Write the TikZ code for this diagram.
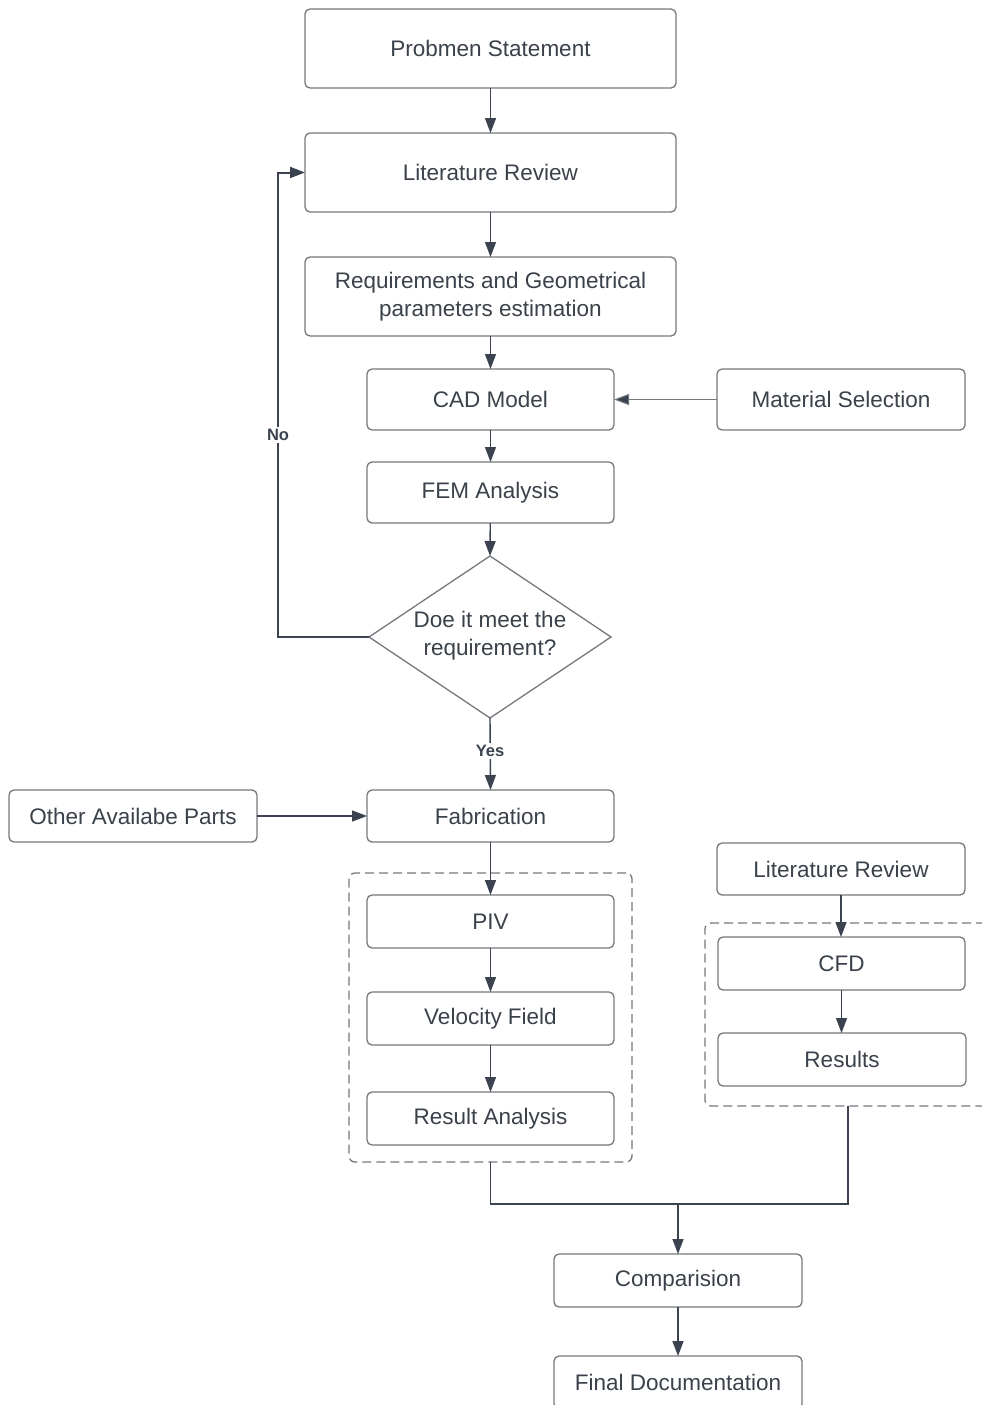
\documentclass[tikz,border=0pt]{standalone}
\usepackage{fontspec}
\setmainfont{Liberation Sans}
\usetikzlibrary{arrows.meta,shapes.geometric}
\definecolor{txt}{HTML}{3A414A}
\definecolor{bord}{HTML}{74787E}
\definecolor{conn}{HTML}{3B4350}
\begin{document}
\begin{tikzpicture}[x=1pt,y=-1pt,
  box/.style={draw=bord,line width=1.3pt,rounded corners=5pt,text=txt,
    font=\fontsize{22.5}{28}\selectfont,align=center,inner sep=0pt,outer sep=0pt},
  wide/.style={minimum width=371pt,minimum height=79pt},
  mid/.style={minimum width=247pt,minimum height=53pt},
  dbox/.style={draw=bord,line width=1.3pt,dash pattern=on 9pt off 5pt,rounded corners=6pt,inner sep=0pt,outer sep=0pt},
  conn/.style={draw=conn,line width=1.4pt,-{Triangle[length=15pt,width=11pt]}},
  plain/.style={draw=conn,line width=1.4pt},
  lbl/.style={fill=white,text=conn,font=\fontsize{16.5}{18}\selectfont\bfseries,inner sep=2pt}]
\clip (0,0) rectangle (982,1405);
\useasboundingbox (0,0) rectangle (982,1405);
% dashed groups
\node[dbox,minimum width=283pt,minimum height=289pt] (g1) at (490.5,1017.5) {};
\node[dbox,minimum width=300pt,minimum height=183pt] (g2) at (855,1014.5) {};
% nodes
\node[box,wide] (ps) at (490.5,48.5) {Probmen Statement};
\node[box,wide] (lr) at (490.5,172.5) {Literature Review};
\node[box,wide] (req) at (490.5,296.5) {Requirements and Geometrical\\parameters estimation};
\node[box,minimum width=247pt,minimum height=61pt] (cad) at (490.5,399.5) {CAD Model};
\node[box,minimum width=248pt,minimum height=61pt] (ms) at (841,399.5) {Material Selection};
\node[box,minimum width=247pt,minimum height=61pt] (fem) at (490.5,492.5) {FEM Analysis};
\node[shape=diamond,draw=bord,line width=1.3pt,aspect=1.5,minimum width=242pt,minimum height=162pt,inner sep=0pt,outer sep=0pt] (dec) at (490,637) {};
\node[text=txt,font=\fontsize{22.5}{28}\selectfont,align=center] (dect) at (490,636) {Doe it meet the\\requirement?};
\node[box,mid,minimum height=52pt] (fab) at (490.5,816) {Fabrication};
\node[box,mid,minimum width=248pt,minimum height=52pt] (oap) at (133,816) {Other Availabe Parts};
\node[box,mid] (piv) at (490.5,921.5) {PIV};
\node[box,mid] (vf) at (490.5,1018.5) {Velocity Field};
\node[box,mid] (ra) at (490.5,1118.5) {Result Analysis};
\node[box,mid,minimum width=248pt,minimum height=52pt] (lr2) at (841,869) {Literature Review};
\node[box,mid] (cfd) at (841.5,963.5) {CFD};
\node[box,mid,minimum width=248pt] (res) at (842,1059.5) {Results};
\node[box,mid,minimum width=248pt] (cmp) at (678,1280.5) {Comparision};
\node[box,mid,minimum width=248pt] (fd) at (678,1382.5) {Final Documentation};
% coordinates
\coordinate (nol) at (278,637);
\coordinate (j1) at (490.5,1204);
\coordinate (j2) at (848,1204);
\coordinate (g2b) at (848,1106);
\coordinate (jm) at (678,1204);
% connectors
\draw[conn] (ps) -- (lr);
\draw[conn] (lr) -- (req);
\draw[conn] (req) -- (cad);
\draw[conn,line width=1pt,draw=bord,{Triangle[length=15pt,width=11pt,fill=conn]}-] (cad.east) -- (ms.west);
\draw[conn] (cad) -- (fem);
\draw[conn] (fem) -- (dec.north);
\draw[conn,line width=2pt] (dec.west) -- (nol) |- (lr.west);
\node[lbl] (no) at (278,435) {No};
\draw[conn] (dec.south) -- (fab.north);
\node[lbl] (yes) at (490,751) {Yes};
\draw[conn] (oap) -- (fab);
\draw[conn] (fab) -- (piv);
\draw[conn] (piv) -- (vf);
\draw[conn] (vf) -- (ra);
\draw[conn] (lr2.south) -- (lr2.south |- cfd.north);
\draw[conn] (cfd.south) -- (cfd.south |- res.north);
\draw[plain] (g1.south) -- (j1) -- (j2) -- (g2b);
\draw[conn] (jm) -- (cmp.north);
\draw[conn] (cmp) -- (fd);
\end{tikzpicture}
\end{document}
